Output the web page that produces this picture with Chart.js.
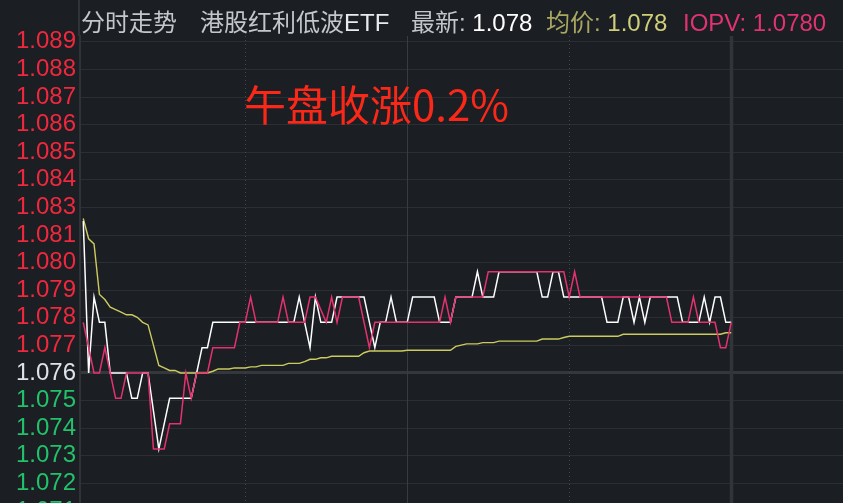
<!DOCTYPE html>
<html>
<head>
<meta charset="utf-8">
<script src="https://cdn.jsdelivr.net/npm/chart.js@4.4.0/dist/chart.umd.min.js"></script>
<style>
html,body{margin:0;padding:0;background:#1b1e23;overflow:hidden;width:843px;height:503px}
#wrap{position:relative;width:843px;height:503px;overflow:hidden}
#c{position:absolute;left:0;top:0;width:843px;height:540px}
.h{position:absolute;top:11px;font-family:"Liberation Sans","Noto Sans CJK SC",sans-serif;font-size:24px;line-height:1;white-space:nowrap}
#note{position:absolute;left:244px;top:82px;font-family:"Noto Sans CJK SC",sans-serif;font-size:42px;line-height:1;color:#fa2818;white-space:nowrap}
</style>
</head>
<body>
<div id="wrap">
  <canvas id="c" width="843" height="540"></canvas>
  <div class="h" style="left:81px;color:#c3c6cb">分时走势</div>
  <div class="h" style="left:200px;color:#c3c6cb">港股红利低波<span style="color:#e8eaee">ETF</span></div>
  <div class="h" style="left:411px;color:#c3c6cb">最新: <span style="color:#ffffff">1.078</span></div>
  <div class="h" style="left:546px;color:#a9a862">均价: <span style="color:#cfcf7a">1.078</span></div>
  <div class="h" style="left:683px;color:#e0336f">IOPV: 1.0780</div>
  <div id="note">午盘收涨0.2%</div>
</div>
<script>
// ---- data (one value per trading minute from 9:30) ----
const prevClose = 1.076;
const gridStep = 0.00109;
const yTickLabels = ["1.071","1.072","1.073","1.074","1.075","1.076","1.077","1.078","1.079","1.080","1.081","1.083","1.084","1.085","1.086","1.087","1.088","1.089"];

const price = [
  1.082,1.076,1.079,1.078,1.078,1.076,1.076,1.076,1.076,1.075,
  1.075,1.076,1.076,1.0745,1.073,1.074,1.075,1.075,1.075,1.075,
  1.075,1.076,1.077,1.077,1.078,1.078,1.078,1.078,1.078,1.078,
  1.078,1.078,1.078,1.078,1.078,1.078,1.078,1.078,1.078,1.078,
  1.079,1.078,1.077,1.079,1.078,1.078,1.078,1.079,1.079,1.079,
  1.079,1.079,1.079,1.078,1.077,1.078,1.078,1.079,1.078,1.078,
  1.078,1.079,1.079,1.079,1.079,1.079,1.078,1.078,1.078,1.079,
  1.079,1.079,1.079,1.080,1.079,1.079,1.079,1.080,1.080,1.080,
  1.080,1.080,1.080,1.080,1.080,1.079,1.079,1.080,1.080,1.079,
  1.079,1.079,1.079,1.079,1.079,1.079,1.079,1.078,1.078,1.078,
  1.079,1.079,1.078,1.079,1.078,1.079,1.079,1.079,1.079,1.079,
  1.079,1.078,1.078,1.078,1.078,1.079,1.078,1.079,1.079,1.078,
  1.078
];

const iopv = [
  1.078,1.077,1.076,1.076,1.077,1.076,1.075,1.075,1.076,1.076,
  1.076,1.076,1.076,1.073,1.073,1.073,1.074,1.074,1.074,1.076,
  1.075,1.076,1.076,1.076,1.077,1.077,1.077,1.077,1.077,1.078,
  1.078,1.079,1.078,1.078,1.078,1.078,1.078,1.079,1.078,1.078,
  1.078,1.078,1.079,1.079,1.0785,1.078,1.079,1.078,1.079,1.079,
  1.079,1.079,1.078,1.077,1.078,1.078,1.078,1.078,1.078,1.078,
  1.078,1.078,1.078,1.078,1.078,1.078,1.078,1.079,1.078,1.079,
  1.079,1.079,1.079,1.079,1.079,1.080,1.080,1.080,1.080,1.080,
  1.080,1.080,1.080,1.080,1.080,1.080,1.080,1.080,1.080,1.080,
  1.079,1.080,1.079,1.079,1.079,1.079,1.079,1.079,1.079,1.079,
  1.079,1.079,1.079,1.079,1.079,1.079,1.079,1.079,1.079,1.078,
  1.078,1.078,1.078,1.079,1.078,1.078,1.078,1.078,1.077,1.077,
  1.078
];

const avgPrice = [
  1.0821,1.0813,1.0811,1.0791,1.0789,1.0786,1.0785,1.0784,1.0783,1.0783,
  1.0782,1.0780,1.0779,1.0771,1.0763,1.0762,1.0761,1.0761,1.0760,1.0760,
  1.0760,1.0760,1.0760,1.0760,1.07607,1.07616,1.07616,1.07616,1.0762,1.0762,
  1.0762,1.07624,1.07624,1.0763,1.0763,1.0763,1.0763,1.0763,1.07638,1.07638,
  1.07638,1.07645,1.07654,1.07654,1.0766,1.0766,1.07666,1.07666,1.07666,1.07666,
  1.07666,1.07666,1.0768,1.07687,1.07687,1.07687,1.07687,1.07687,1.07687,1.07687,
  1.0769,1.0769,1.0769,1.0769,1.0769,1.0769,1.0769,1.0769,1.0769,1.07705,
  1.0771,1.07715,1.07715,1.07715,1.0772,1.0772,1.0772,1.07726,1.07726,1.07726,
  1.07726,1.07726,1.07726,1.07726,1.07726,1.07734,1.07734,1.07734,1.07734,1.0774,
  1.07745,1.07745,1.07745,1.07745,1.07745,1.07745,1.07745,1.07745,1.07745,1.07745,
  1.07753,1.07753,1.07753,1.07753,1.07753,1.07753,1.07753,1.07753,1.07753,1.07753,
  1.07753,1.07753,1.07753,1.07753,1.07753,1.07753,1.07753,1.07753,1.07753,1.07759,
  1.07759
];

// minute indices of the vertical time grid (10:00, 10:30, 11:00, 11:30)
const timeGrid = [30, 60, 90, 120];

// ---- build ----
const toXY = arr => arr.map((v, i) => ({ x: i, y: v }));
const yTickValues = yTickLabels.map((_, k) => prevClose + (k - 5) * gridStep);

const COLORS = {
  grid: '#2b2e33', thick: '#34373c', axis: '#2f3237',
  up: '#f0283e', down: '#22c26b', flat: '#dde3ea'
};
const timeGridStyle = [
  { dash: [1, 3], w: 1, c: '#44474c' },
  { dash: [], w: 1, c: '#383b40' },
  { dash: [1, 3], w: 1, c: '#44474c' },
  { dash: [], w: 3.5, c: '#313439' }
];

const framePlugin = {
  id: 'frame',
  beforeDatasetsDraw(chart) {
    const { ctx, chartArea: a, scales: { x } } = chart;
    ctx.save();
    timeGrid.forEach((v, k) => {
      const s = timeGridStyle[k];
      const px = Math.round(x.getPixelForValue(v)) + (s.w % 2 ? 0.5 : 0);
      ctx.beginPath();
      ctx.setLineDash(s.dash);
      ctx.lineWidth = s.w;
      ctx.strokeStyle = s.c;
      ctx.moveTo(px, a.top);
      ctx.lineTo(px, a.bottom);
      ctx.stroke();
    });
    ctx.restore();
  },
  afterDraw(chart) {
    const { ctx, chartArea: a } = chart;
    ctx.save();
    ctx.strokeStyle = COLORS.axis;
    ctx.lineWidth = 2;
    ctx.beginPath();
    ctx.moveTo(a.left - 1, 0);
    ctx.lineTo(a.left - 1, a.top);
    ctx.stroke();
    ctx.restore();
  }
};

const isFlat = v => Math.abs(v - prevClose) < 1e-7;

new Chart(document.getElementById('c'), {
  type: 'line',
  data: {
    datasets: [
      { label: 'IOPV', data: toXY(iopv), borderColor: '#e5326f', borderWidth: 1.5, order: 0 },
      { label: '最新', data: toXY(price), borderColor: '#ffffff', borderWidth: 1.5, order: 1 },
      { label: '均价', data: toXY(avgPrice), borderColor: '#cccc5e', borderWidth: 1.4, order: 2 }
    ]
  },
  options: {
    animation: false,
    responsive: false,
    devicePixelRatio: 1,
    elements: { point: { radius: 0 }, line: { tension: 0 } },
    layout: { autoPadding: false, padding: { top: 36, left: 0, right: 0, bottom: 0 } },
    plugins: { legend: { display: false }, tooltip: { enabled: false } },
    scales: {
      x: { type: 'linear', display: false, min: -0.6, max: 140.7 },
      y: {
        type: 'linear',
        position: 'left',
        min: 1.069404,
        max: 1.08931,
        afterFit(scale) {
          scale.width = 80;
          scale.paddingTop = 0;
          scale.paddingBottom = 0;
        },
        afterBuildTicks(scale) { scale.ticks = yTickValues.map(v => ({ value: v })); },
        border: { display: true, color: COLORS.axis, width: 2 },
        grid: {
          drawTicks: false,
          color: c => (c.tick && isFlat(c.tick.value)) ? COLORS.thick : COLORS.grid,
          lineWidth: c => (c.tick && isFlat(c.tick.value)) ? 3 : 1
        },
        ticks: {
          autoSkip: false,
          padding: 4,
          font: { family: '"Liberation Sans", Arial, sans-serif', size: 24 },
          color: c => isFlat(c.tick.value) ? COLORS.flat : (c.tick.value > prevClose ? COLORS.up : COLORS.down),
          callback: (v, i) => yTickLabels[i]
        }
      }
    }
  },
  plugins: [framePlugin]
});
</script>
</body>
</html>
